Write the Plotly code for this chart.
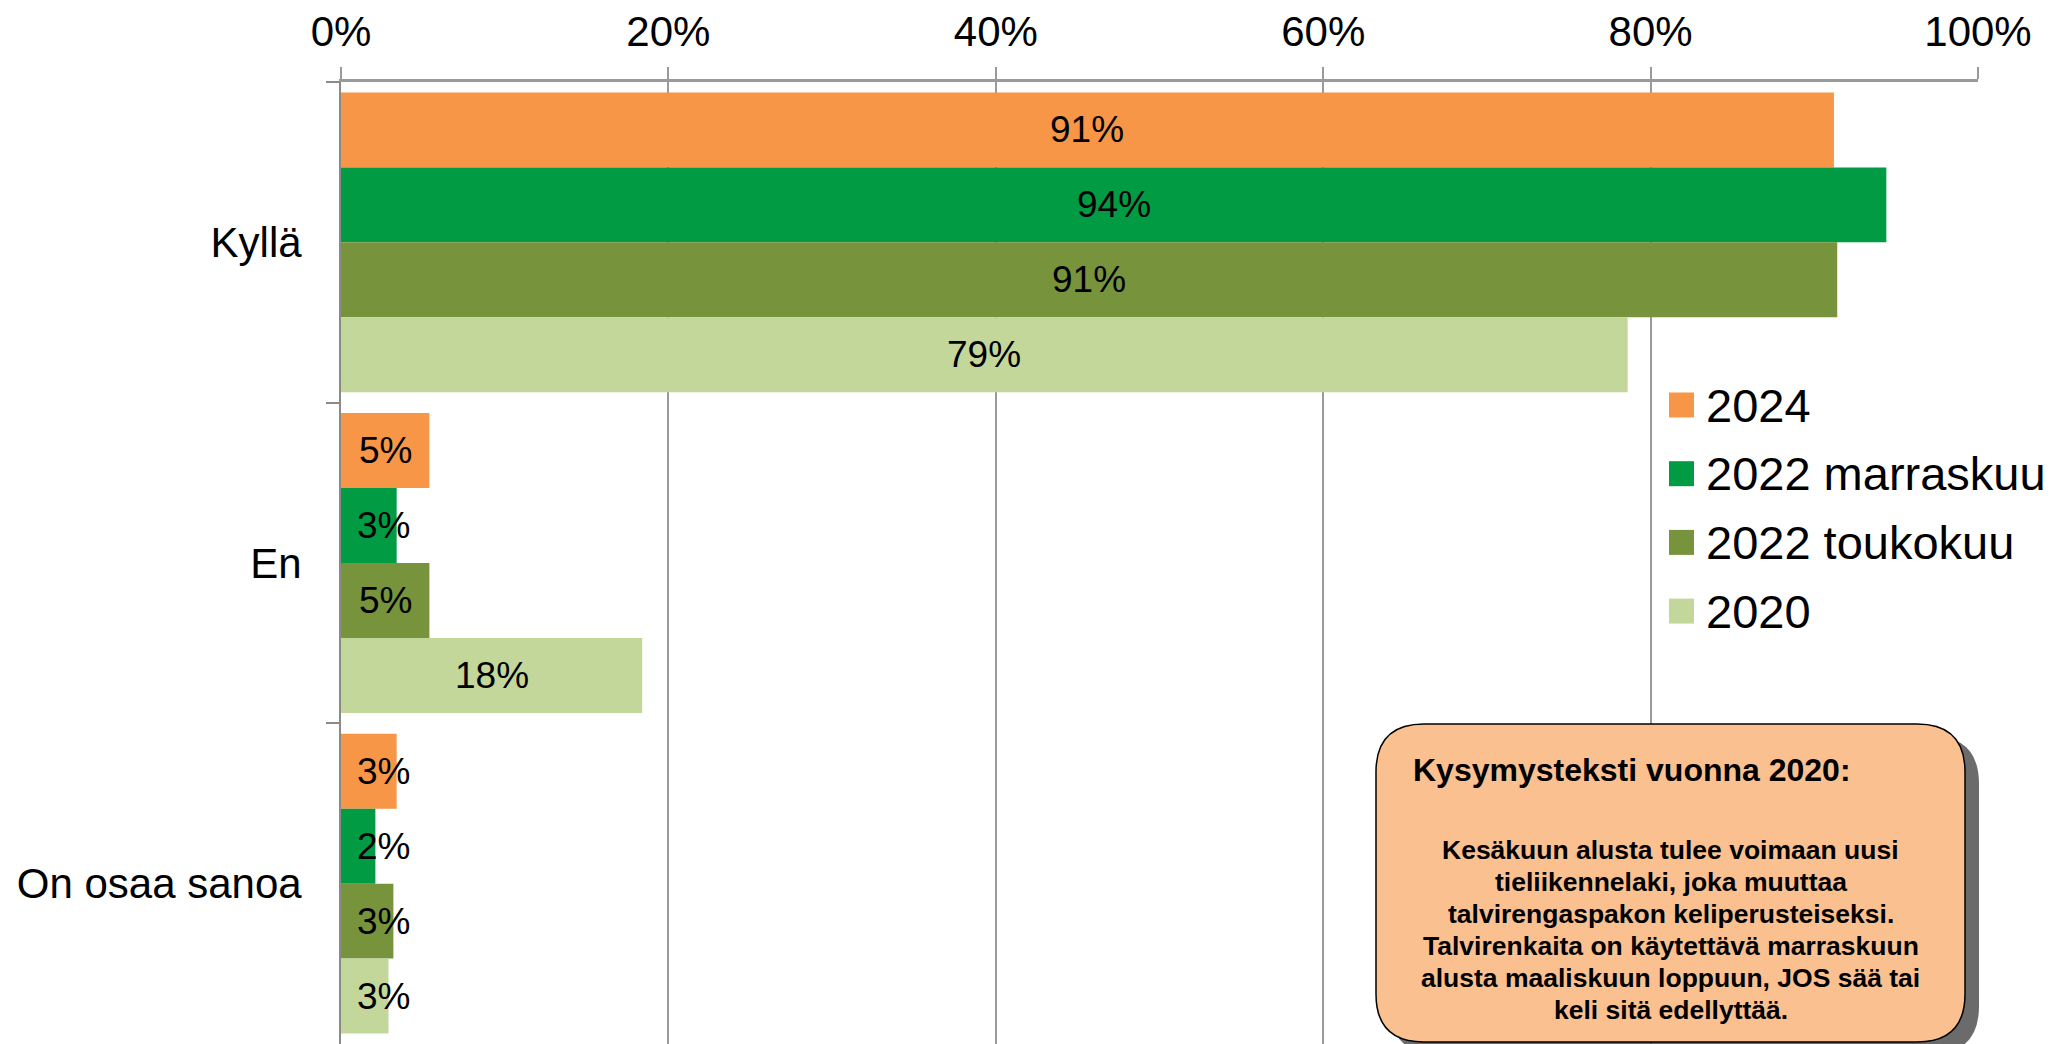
import plotly.graph_objects as go

# data
categories = ["Kyllä", "En", "On osaa sanoa"]
series_names = ["2024", "2022 marraskuu", "2022 toukokuu", "2020"]
values_2024 = [91.2, 5.4, 3.4]
values_2022_marras = [94.4, 3.4, 2.1]
values_2022_touko = [91.4, 5.4, 3.2]
values_2020 = [78.6, 18.4, 2.9]
x_ticks = [0, 20, 40, 60, 80, 100]
x_tick_labels = ["0%", "20%", "40%", "60%", "80%", "100%"]

note_title = "Kysymysteksti vuonna 2020:"
note_lines = [
    "Kesäkuun alusta tulee voimaan uusi",
    "tieliikennelaki, joka muuttaa",
    "talvirengaspakon keliperusteiseksi.",
    "Talvirenkaita on käytettävä marraskuun",
    "alusta maaliskuun loppuun, JOS sää tai",
    "keli sitä edellyttää.",
]

colors = ["#F79646", "#009B43", "#77933C", "#C4D79B"]
all_values = [values_2024, values_2022_marras, values_2022_touko, values_2020]

FONT = "Liberation Sans, Arial, sans-serif"
OFF = 8                                  # page body margin
W, H = 2054 - OFF, 1044 - OFF
PL, PR, PT, PB = 341, 1978, 82, 1044     # plot area, screen pixels
BARGAP = 0.065


def paper(x, y):
    return (x - PL) / (PR - PL), (PB - y) / (PB - PT)


def rounded_rect(x0, y0, x1, y1, r):
    pts = [
        ("M", x0 + r, y0), ("L", x1 - r, y0), ("Q", x1, y0, x1, y0 + r),
        ("L", x1, y1 - r), ("Q", x1, y1, x1 - r, y1), ("L", x0 + r, y1),
        ("Q", x0, y1, x0, y1 - r), ("L", x0, y0 + r), ("Q", x0, y0, x0 + r, y0),
    ]
    out = []
    for p in pts:
        coords = p[1:]
        s = []
        for i in range(0, len(coords), 2):
            px, py = paper(coords[i], coords[i + 1])
            s.append(f"{px:.5f},{py:.5f}")
        out.append(p[0] + " ".join(s))
    return " ".join(out) + " Z"


fig = go.Figure()

for name, vals, col in zip(series_names, all_values, colors):
    fig.add_trace(go.Bar(
        y=categories, x=vals, name=name, orientation="h",
        marker_color=col, marker_line_width=0,
        showlegend=False, hoverinfo="skip",
    ))

# data labels
band_px = (PB - PT) / len(categories)
bar_px = band_px * (1 - BARGAP) / len(series_names)
annotations = []
for i, vals in enumerate(all_values):
    shift = -(i - (len(series_names) - 1) / 2) * bar_px
    for cat, v in zip(categories, vals):
        annotations.append(dict(
            x=max(v / 2, 2.6), y=cat, xref="x", yref="y",
            text=f"{round(v)}%", showarrow=False, yshift=shift,
            font=dict(family=FONT, size=37, color="black"),
        ))

shapes = []

# legend (drawn by hand so the swatches can be as large as the reference)
for i, (name, col) in enumerate(zip(series_names, colors)):
    row_y = 405 + i * 68.7
    x0, y0 = paper(1669, row_y - 12.5)
    x1, y1 = paper(1694, row_y + 12.5)
    shapes.append(dict(type="rect", xref="paper", yref="paper", layer="above",
                       x0=x0, y0=y0, x1=x1, y1=y1, fillcolor=col, line_width=0))
    tx, ty = paper(1704, row_y)
    annotations.append(dict(
        x=tx, y=ty, xref="paper", yref="paper", xanchor="left", yanchor="middle",
        text=name, showarrow=False, font=dict(family=FONT, size=47, color="black"),
    ))

# note box
bx0, by0, bx1, by1 = 1376, 724, 1965, 1042
shapes.append(dict(type="path", xref="paper", yref="paper", layer="above",
                   path=rounded_rect(bx0 + 14, by0 + 12, bx1 + 14, by1 + 12, 48),
                   fillcolor="rgba(70,70,70,0.8)", line_width=0))
shapes.append(dict(type="path", xref="paper", yref="paper", layer="above",
                   path=rounded_rect(bx0, by0, bx1, by1, 48),
                   fillcolor="#FAC090", line=dict(color="black", width=1.5)))
tx, ty = paper(1411, 770)
annotations.append(dict(
    x=tx, y=ty, xref="paper", yref="paper", xanchor="left", yanchor="middle",
    text=f"<b>{note_title}</b>", showarrow=False,
    font=dict(family=FONT, size=32, color="black"),
))
for k, line in enumerate(note_lines):
    cx, cy = paper((bx0 + bx1) / 2, 850 + 32 * k)
    annotations.append(dict(
        x=cx, y=cy, xref="paper", yref="paper", xanchor="center", yanchor="middle",
        text=f"<b>{line}</b>", showarrow=False,
        font=dict(family=FONT, size=26.5, color="black"),
    ))

fig.update_layout(
    width=W, height=H,
    margin=dict(l=PL - OFF, r=W - (PR - OFF), t=PT - OFF, b=H - (PB - OFF), pad=0),
    barmode="group", bargap=BARGAP, bargroupgap=0,
    plot_bgcolor="white", paper_bgcolor="white",
    font=dict(family=FONT, color="black"),
    showlegend=False,
    xaxis=dict(
        side="top", range=[0, 100], tickvals=x_ticks, ticktext=x_tick_labels,
        showgrid=True, gridcolor="#9a9a9a", gridwidth=2,
        showline=True, linecolor="#9a9a9a", linewidth=3,
        ticks="outside", ticklen=12, tickcolor="#9a9a9a", tickwidth=2,
        tickfont=dict(size=42, color="black"), ticklabelstandoff=4,
        zeroline=False, fixedrange=True, automargin=False,
    ),
    yaxis=dict(
        autorange="reversed", showline=True, linecolor="#8a8a8a", linewidth=2,
        ticks="outside", tickson="boundaries", ticklen=13, tickcolor="#8a8a8a",
        tickwidth=2, tickfont=dict(size=42, color="black"), ticklabelstandoff=29,
        showgrid=False, fixedrange=True, automargin=False,
    ),
    shapes=shapes,
    annotations=annotations,
)

fig.write_html("out.html")
